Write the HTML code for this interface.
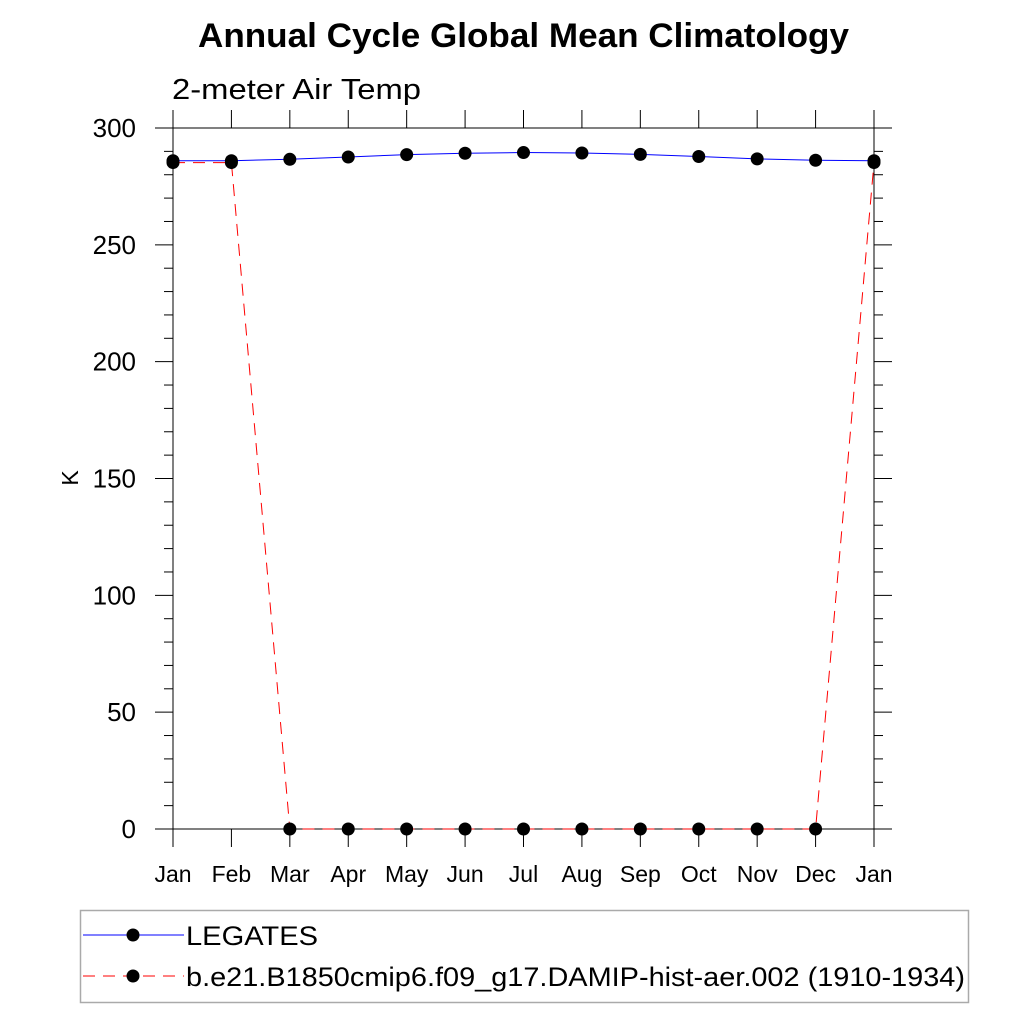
<!DOCTYPE html>
<html><head><meta charset="utf-8"><style>
html,body{margin:0;padding:0;background:#fff;}
svg{display:block;font-family:"Liberation Sans",sans-serif;}
</style></head><body>
<svg id="chart" width="1024" height="1024" viewBox="0 0 1024 1024">
<text x="198" y="47" font-size="34" font-weight="bold" textLength="651" lengthAdjust="spacingAndGlyphs">Annual Cycle Global Mean Climatology</text>
<text x="172" y="99" font-size="29" textLength="249" lengthAdjust="spacingAndGlyphs">2-meter Air Temp</text>
<text x="72" y="478" font-size="23" text-anchor="middle" transform="rotate(-90 72 478)" dominant-baseline="middle">K</text>
<g id="axes"></g>
<g id="series"></g>
<rect x="80.5" y="910.5" width="888" height="92" fill="none" stroke="#aaa" stroke-width="1.5"/>
<g>
<line x1="83" y1="935" x2="184" y2="935" stroke="#0000ff" stroke-width="1"/>
<circle cx="133" cy="935" r="6.5" fill="#000"/>
<text x="186" y="945" font-size="27" textLength="132" lengthAdjust="spacingAndGlyphs">LEGATES</text>
</g>
<g>
<line x1="83" y1="976" x2="184" y2="976" stroke="#ff0000" stroke-width="1" stroke-dasharray="12,8"/>
<circle cx="133" cy="976" r="6.5" fill="#000"/>
<text x="186" y="986" font-size="27" textLength="779" lengthAdjust="spacingAndGlyphs">b.e21.B1850cmip6.f09_g17.DAMIP-hist-aer.002 (1910-1934)</text>
</g>
</svg>
<script>
const months = ["Jan","Feb","Mar","Apr","May","Jun","Jul","Aug","Sep","Oct","Nov","Dec","Jan"];
const legates = [286.0,286.0,286.6,287.6,288.6,289.2,289.5,289.3,288.7,287.8,286.8,286.2,286.0];
const model = [285.2,285.2,0,0,0,0,0,0,0,0,0,0,285.2];
const yTicks = [0,50,100,150,200,250,300];

const NS="http://www.w3.org/2000/svg";
const X0=173,X1=874,Y0=829,Y1=128;
const xs=i=>X0+(X1-X0)*i/(months.length-1);
const ys=v=>Y0-(Y0-Y1)*v/300;
function mk(tag,attrs,parent){const e=document.createElementNS(NS,tag);for(const k in attrs)e.setAttribute(k,attrs[k]);parent.appendChild(e);return e;}
const ax=document.getElementById('axes');
const fr=mk('rect',{x:X0,y:Y1,width:X1-X0,height:Y0-Y1,fill:'none',stroke:'#000','stroke-width':1},ax);


months.forEach((m,i)=>{
  const x=xs(i);
  mk('line',{x1:x,y1:Y0,x2:x,y2:Y0+18,stroke:'#000'},ax);
  mk('line',{x1:x,y1:Y1,x2:x,y2:Y1-18,stroke:'#000'},ax);
  const t=mk('text',{x:x,y:882,'text-anchor':'middle','font-size':23},ax);
  t.textContent=m;
  
  
});
for(let v=0;v<=300;v+=10){
  const y=ys(v);const L=v%50===0?18:9;
  mk('line',{x1:X0-L,y1:y,x2:X0,y2:y,stroke:'#000'},ax);
  mk('line',{x1:X1,y1:y,x2:X1+L,y2:y,stroke:'#000'},ax);
}
yTicks.forEach(v=>{
  const t=mk('text',{x:136,y:ys(v)+9,'text-anchor':'end','font-size':26},ax);
  t.textContent=v;
  
  
});
const sg=document.getElementById('series');
function series(vals,color,dash,name){
  const g=mk('g',{},sg);
  
  
  const a={points:vals.map((v,i)=>xs(i)+','+ys(v)).join(' '),fill:'none',stroke:color,'stroke-width':1};
  if(dash)a['stroke-dasharray']=dash;
  mk('polyline',a,g);
  vals.forEach((v,i)=>{const c=mk('circle',{cx:xs(i),cy:ys(v),r:6.5,fill:'#000'},g);
    
    });
}
series(model,'#ff0000','12,8','model-series');
series(legates,'#0000ff',null,'legates-series');
</script>
</body></html>
